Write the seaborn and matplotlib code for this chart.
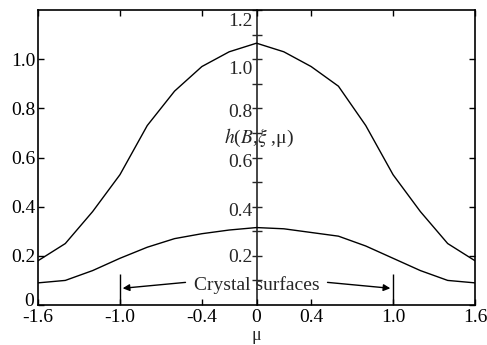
import matplotlib
matplotlib.use("Agg")
import matplotlib.pyplot as plt
import matplotlib.transforms as mtransforms
import seaborn as sns
import pandas as pd

# ---- data ----
mu = [-1.6, -1.4, -1.2, -1.0, -0.8, -0.6, -0.4, -0.2, 0.0,
      0.2, 0.4, 0.6, 0.8, 1.0, 1.2, 1.4, 1.6]
h_upper = [0.18, 0.25, 0.38, 0.53, 0.73, 0.87, 0.97, 1.03, 1.065,
           1.03, 0.97, 0.89, 0.73, 0.53, 0.38, 0.25, 0.18]
h_lower = [0.09, 0.10, 0.14, 0.19, 0.235, 0.27, 0.29, 0.305, 0.315,
           0.31, 0.295, 0.28, 0.24, 0.19, 0.14, 0.10, 0.09]

x_ticks = [-1.6, -1.0, -0.4, 0.0, 0.4, 1.0, 1.6]
x_ticklabels = ["-1.6", "-1.0", "-0.4", "0", "0.4", "1.0", "1.6"]
y_ticks_left = [0.0, 0.2, 0.4, 0.6, 0.8, 1.0]
y_ticklabels_left = ["0", "0.2", "0.4", "0.6", "0.8", "1.0"]
y_ticks_center = [0.2, 0.4, 0.6, 0.8, 1.0, 1.2]
y_ticklabels_center = ["0.2", "0.4", "0.6", "0.8", "1.0", "1.2"]
y_minor_center = [0.1, 0.3, 0.5, 0.7, 0.9, 1.1]
surfaces = [-1.0, 1.0]

sns.set_style("ticks")
plt.rcParams["font.family"] = ["Liberation Serif", "DejaVu Serif"]
plt.rcParams["mathtext.fontset"] = "stix"

fig = plt.figure(figsize=(4.87, 3.45), dpi=100)
ax = fig.add_axes([38 / 487, 40 / 345, (475 - 38) / 487, (335 - 40) / 345])

df = pd.DataFrame({
    "mu": mu * 2,
    "h": h_upper + h_lower,
    "curve": ["upper"] * len(mu) + ["lower"] * len(mu),
})
sns.lineplot(data=df, x="mu", y="h", units="curve", estimator=None,
             color="black", lw=1.0, ax=ax, legend=False)

ax.set_xlim(-1.6, 1.6)
ax.set_ylim(0, 1.2)
ax.set_xticks(x_ticks)
ax.set_xticklabels(x_ticklabels)
ax.set_yticks(y_ticks_left)
ax.set_yticklabels(y_ticklabels_left)
ax.tick_params(direction="in", top=True, right=True, length=4, width=1,
               labelsize=14, pad=2, colors="black")
ax.tick_params(axis="x", pad=3)
for s in ax.spines.values():
    s.set_linewidth(1.2)
    s.set_color("black")
ax.set_xlabel("μ", fontsize=13, labelpad=0.5)
ax.set_ylabel("")

# lift the "0" label a little, as in the reference
zero_lbl = ax.get_yticklabels()[0]
zero_lbl.set_transform(zero_lbl.get_transform() +
                       mtransforms.ScaledTranslation(-1 / 100, 5 / 100, fig.dpi_scale_trans))

# central axis (spine + ticks), labels drawn beside it
sec = ax.secondary_yaxis(0.5)
sec.set_alignment("left")
sec.set_yticks(y_ticks_center)
sec.set_yticks(y_minor_center, minor=True)
sec.tick_params(which="both", direction="inout", length=7, width=1,
                left=True, right=False, labelleft=False, labelright=False)
for sp in sec.spines.values():
    sp.set_linewidth(1.2)
# reference's central labels sit progressively below their ticks
shifts = [2, 5, 5, 4, 10, 12]
for v, lbl, d in zip(y_ticks_center, y_ticklabels_center, shifts):
    ax.annotate(lbl, xy=(0, v), xytext=(-4, -d), textcoords="offset pixels",
                ha="right", va="center", fontsize=14)

ax.text(0.02, 0.68, r"$h$($B$,$\xi$ ,μ)", fontsize=14, ha="center", va="center")

# crystal surfaces
ax.vlines(surfaces, 0, 0.125, color="black", lw=1.0)
ax.text(0.0, 0.082, "Crystal surfaces", fontsize=14, ha="center", va="center")
ax.annotate("", xy=(-0.98, 0.068), xytext=(-0.52, 0.092),
            arrowprops=dict(arrowstyle="-|>", color="black", lw=1.0,
                            mutation_scale=10, shrinkA=0, shrinkB=0))
ax.annotate("", xy=(0.98, 0.068), xytext=(0.52, 0.092),
            arrowprops=dict(arrowstyle="-|>", color="black", lw=1.0,
                            mutation_scale=10, shrinkA=0, shrinkB=0))

fig.savefig("out.png", dpi=100)
